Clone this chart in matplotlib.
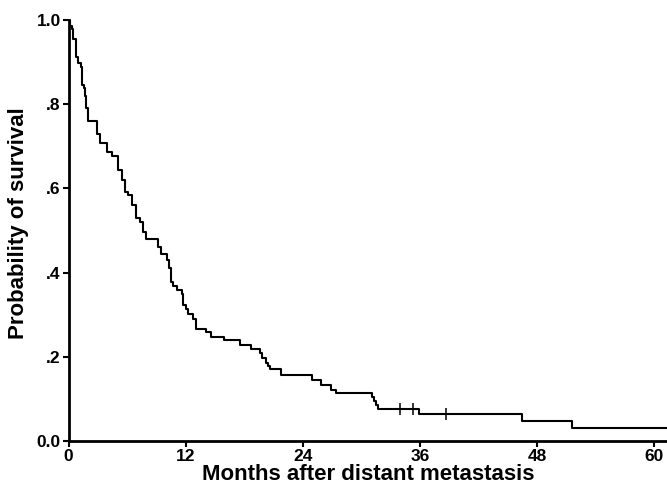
import matplotlib
matplotlib.use("Agg")
import matplotlib.pyplot as plt

plt.rcParams['font.family'] = ['Liberation Sans', 'DejaVu Sans']

# Kaplan-Meier steps: time of drop (months), new survival
step_times = [0, 0.15, 0.36, 0.46, 0.74, 1.0, 1.25, 1.35, 1.59, 1.69, 1.79, 2.03,
              2.95, 3.22, 3.91, 4.42, 5.07, 5.45, 5.78, 6.09, 6.47, 6.91, 7.32,
              7.66, 7.90, 9.19, 9.44, 10.05, 10.29, 10.46, 10.67, 11.07, 11.59,
              11.75, 12.0, 12.2, 12.8, 13.05, 14.1, 14.6, 15.9, 17.55, 18.7,
              19.65, 19.85, 20.2, 20.45, 20.6, 21.75, 24.9, 25.85, 26.9, 27.4,
              31.05, 31.25, 31.45, 31.65, 35.9, 46.4, 51.6]
survival = [1.0, 0.986, 0.978, 0.954, 0.913, 0.897, 0.888, 0.846, 0.838, 0.82,
            0.79, 0.759, 0.729, 0.707, 0.687, 0.677, 0.644, 0.62, 0.592, 0.585,
            0.56, 0.53, 0.52, 0.497, 0.481, 0.46, 0.444, 0.43, 0.41, 0.378,
            0.368, 0.359, 0.349, 0.323, 0.313, 0.302, 0.29, 0.267, 0.26, 0.247,
            0.24, 0.228, 0.218, 0.208, 0.197, 0.186, 0.178, 0.171, 0.157, 0.145,
            0.133, 0.121, 0.114, 0.105, 0.095, 0.086, 0.076, 0.064, 0.048, 0.032]
end_time = 61.3

# censored observations
censor_times = [34.0, 35.3, 38.65]
censor_surv = [0.076, 0.076, 0.064]

x_ticks = [0, 12, 24, 36, 48, 60]
y_ticks = [0.0, 0.2, 0.4, 0.6, 0.8, 1.0]
y_ticklabels = ["0.0", ".2", ".4", ".6", ".8", "1.0"]

fig = plt.figure(figsize=(6.67, 4.88), dpi=100)
ax = fig.add_axes([0.1027, 0.0963, 0.8973, 0.8627])

ax.step(step_times + [end_time], survival + [survival[-1]], where='post',
        color='black', linewidth=1.5)
ax.plot(censor_times, censor_surv, linestyle='none', marker='|',
        markersize=8, color='black', markeredgewidth=1.1)

ax.set_xlim(0, end_time)
ax.set_ylim(0, 1.0)
ax.set_xticks(x_ticks)
ax.set_yticks(y_ticks)
ax.set_yticklabels(y_ticklabels)

for side in ['top', 'right']:
    ax.spines[side].set_visible(False)
for side in ['left', 'bottom']:
    ax.spines[side].set_linewidth(2)
    ax.spines[side].set_color('black')

ax.tick_params(direction='out', length=4, width=1.5, labelsize=12.5, pad=1.5)
for lbl in ax.get_xticklabels() + ax.get_yticklabels():
    lbl.set_fontweight('bold')

ax.set_xlabel("Months after distant metastasis", fontsize=16,
              fontweight='bold', labelpad=0)
ax.set_ylabel("Probability of survival", fontsize=16, fontweight='bold')
ax.yaxis.set_label_coords(-0.066, 0.517)

fig.savefig("out.png", dpi=100)
